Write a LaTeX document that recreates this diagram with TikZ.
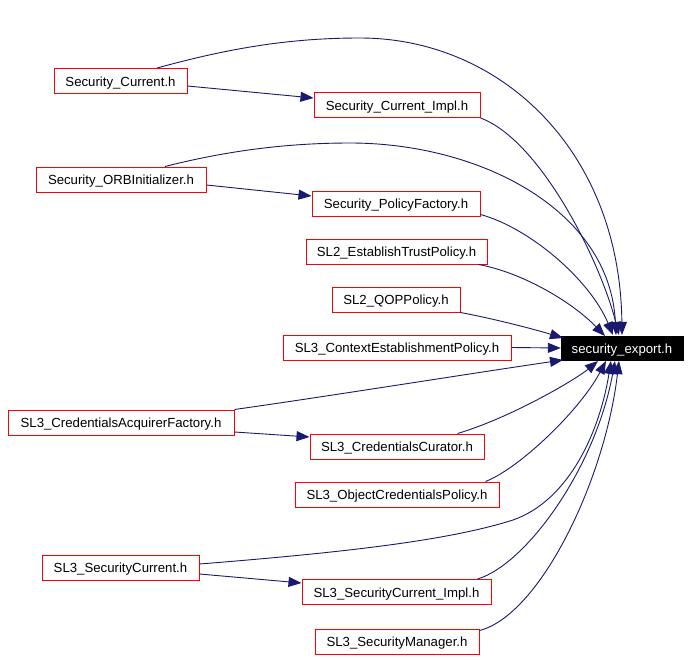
\documentclass[tikz,border=0pt]{standalone}
\usepackage{fontspec}
\setmainfont{Liberation Sans}
\usetikzlibrary{arrows.meta,calc}
\definecolor{edgeblue}{HTML}{191970}
\tikzset{
  filebox/.style={draw=red, line width=1pt, fill=white, inner sep=0pt, minimum height=25pt,
    text height=10pt, text depth=0pt,
    font=\fontsize{13.2}{15}\selectfont, text=black},
  rootbox/.style={draw=black, fill=black, inner sep=0pt, minimum height=24pt,
    text height=10pt, text depth=0pt,
    font=\fontsize{13.2}{15}\selectfont, text=white},
  dep/.style={draw=edgeblue, line width=0.9pt, -{Triangle[length=13pt,width=10pt]}},
}
\begin{document}
\begin{tikzpicture}[x=1pt,y=-1pt]
\useasboundingbox[fill=white] (0,0) rectangle (691,659);
% nodes
\node[filebox, minimum width=133pt] (sc)  at (120.5,81)  {Security\_Current.h};
\node[filebox, minimum width=166pt] (sci) at (397,105)   {Security\_Current\_Impl.h};
\node[filebox, minimum width=170pt] (soi) at (121,179.5) {Security\_ORBInitializer.h};
\node[filebox, minimum width=168pt] (spf) at (396,203.5) {Security\_PolicyFactory.h};
\node[filebox, minimum width=181pt] (etp) at (396.5,251.5) {SL2\_EstablishTrustPolicy.h};
\node[filebox, minimum width=128pt] (qop) at (396,299.5) {SL2\_QOPPolicy.h};
\node[filebox, minimum width=228pt] (cep) at (397,347.5) {SL3\_ContextEstablishmentPolicy.h};
\node[rootbox, minimum width=122pt] (se)  at (622,348)   {security\_export.h};
\node[filebox, minimum width=226pt] (caf) at (121,422.5) {SL3\_CredentialsAcquirerFactory.h};
\node[filebox, minimum width=174pt] (cc)  at (397,446.5) {SL3\_CredentialsCurator.h};
\node[filebox, minimum width=204pt] (ocp) at (397,494.5) {SL3\_ObjectCredentialsPolicy.h};
\node[filebox, minimum width=157pt] (ssc) at (120.5,567.5) {SL3\_SecurityCurrent.h};
\node[filebox, minimum width=189pt] (sci3) at (396.5,592) {SL3\_SecurityCurrent\_Impl.h};
\node[filebox, minimum width=164pt] (sm)  at (397,641.5) {SL3\_SecurityManager.h};
% short edges
\draw[dep] ($(sc.east)+(0,5)$) -- ($(sci.west)+(0,-7)$);
\draw[dep] ($(soi.east)+(0,5.5)$) -- ($(spf.west)+(0,-7.5)$);
\draw[dep] ($(caf.east)+(0,9.5)$) -- ($(cc.west)+(0,-9.5)$);
\draw[dep] ($(ssc.east)+(0,6.5)$) -- ($(sci3.west)+(0,-9)$);
% edges into security_export.h (top)
\draw[dep] ($(sc.north)+(36.5,0)$) .. controls (230,48) and (290,38) .. (360,38)
  .. controls (500,38) and (620,150) .. ($(se.center)+(0,-13)$);
\draw[dep] (sci.south east) .. controls (540,140) and (600,260) .. ($(se.center)+(-3,-13)$);
\draw[dep] ($(soi.north)+(44,0)$) .. controls (230,150) and (290,143) .. (350,143)
  .. controls (480,143) and (610,210) .. ($(se.center)+(-6,-13)$);
\draw[dep] ($(spf.south east)+(0,-2)$) .. controls (530,228) and (590,280) .. ($(se.center)+(-9,-13)$);
\draw[dep] ($(etp.south east)+(-9,0)$) .. controls (520,272) and (570,300) .. ($(se.center)+(-17,-12)$);
\draw[dep] (qop.south east) .. controls (490,318) and (530,328) .. ($(se.center)+(-59,-10)$);
\draw[dep] (cep.east) -- (se.west);
% edges into security_export.h (bottom)
\draw[dep] (caf.north east) .. controls (330,396) and (480,372) .. ($(se.center)+(-59,12)$);
\draw[dep] ($(cc.north east)+(-27,0)$) .. controls (510,418) and (575,380) .. ($(se.center)+(-24,13)$);
\draw[dep] ($(ocp.north east)+(-14,0)$) .. controls (520,468) and (580,410) .. ($(se.center)+(-16,13)$);
\draw[dep] ($(ssc.east)+(0,-3.5)$) .. controls (350,552) and (450,540) .. (513,520)
  .. controls (570,500) and (600,430) .. ($(se.center)+(-11,13)$);
\draw[dep] ($(sci3.north east)+(-14,0)$) .. controls (525,565) and (595,470) .. ($(se.center)+(-7,13)$);
\draw[dep] ($(sm.north east)+(0,2)$) .. controls (540,615) and (605,480) .. ($(se.center)+(-3,13)$);
\end{tikzpicture}
\end{document}
